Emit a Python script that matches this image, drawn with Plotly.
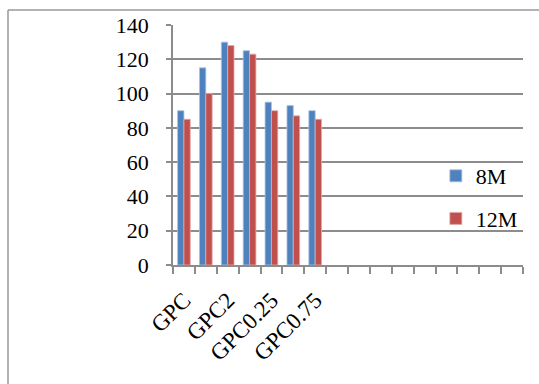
import plotly.graph_objects as go

# Category slots on the x axis (16 slots, first 7 hold data)
n_slots = 16
slot_index = [1, 2, 3, 4, 5, 6, 7]
series_8m = [90, 115, 130, 125, 95, 93, 90]
series_12m = [85, 100, 128, 123, 90, 87, 85]
tick_positions = [1, 3, 5, 7]
tick_labels = ["GPC", "GPC2", "GPC0.25", "GPC0.75"]
y_ticks = [0, 20, 40, 60, 80, 100, 120, 140]

W, H = 539, 384
ml, mr, mt, mb = 173, 16, 25, 119
pw, ph = W - ml - mr, H - mt - mb

font = "Liberation Serif, Times New Roman, serif"
grid_col = "#8c8c8c"

fig = go.Figure()
fig.add_trace(go.Bar(x=slot_index, y=series_8m, name="8M", legendgroup="a",
                     marker=dict(color="#4F81BD", line=dict(color="#a9c1e4", width=0.8))))
fig.add_trace(go.Bar(x=slot_index, y=series_12m, name="12M", legendgroup="b",
                     marker=dict(color="#C0504D", line=dict(color="#e3a9a7", width=0.8))))

# outer frame (top and left edges)
fx = (8 - ml) / pw
fy = (H - mb - 10) / ph
fig.add_shape(type="line", xref="paper", yref="paper", x0=fx, x1=(W - ml) / pw + 0.01,
              y0=fy, y1=fy, line=dict(color="#999999", width=1.5))
fig.add_shape(type="line", xref="paper", yref="paper", x0=fx, x1=fx,
              y0=fy, y1=-(mb + 5) / ph, line=dict(color="#999999", width=1.5))

fig.update_layout(
    width=W, height=H,
    margin=dict(l=ml, r=mr, t=mt, b=mb),
    paper_bgcolor="white", plot_bgcolor="white",
    barmode="group", bargap=0.42, bargroupgap=0,
    font=dict(family=font, size=22, color="black"),
    legend=dict(x=0.751, y=(H - mb - 155) / ph, xanchor="left", yanchor="top",
                bgcolor="rgba(0,0,0,0)", tracegroupgap=11,
                font=dict(family=font, size=22)),
    showlegend=True,
)
fig.update_xaxes(
    range=[0.5, n_slots + 0.5],
    tickmode="array", tickvals=tick_positions, ticktext=tick_labels,
    tickangle=-45, ticks="", ticklabelstandoff=11,
    showgrid=False, showline=True, linecolor=grid_col, linewidth=1.5,
    minor=dict(tickmode="array", tickvals=[i + 0.5 for i in range(n_slots + 1)],
               ticks="outside", ticklen=7, tickcolor=grid_col, tickwidth=1.5, showgrid=False),
    tickfont=dict(family=font, size=23),
    fixedrange=True,
)
fig.update_yaxes(
    range=[0, 140], tickmode="array", tickvals=y_ticks,
    ticks="outside", ticklen=5, tickcolor=grid_col, tickwidth=1.5,
    ticklabelstandoff=13,
    showgrid=True, gridcolor=grid_col, gridwidth=1.5,
    showline=True, linecolor=grid_col, linewidth=1.5,
    zeroline=False,
    tickfont=dict(family=font, size=22),
    fixedrange=True,
)

fig.write_html("out.html")
